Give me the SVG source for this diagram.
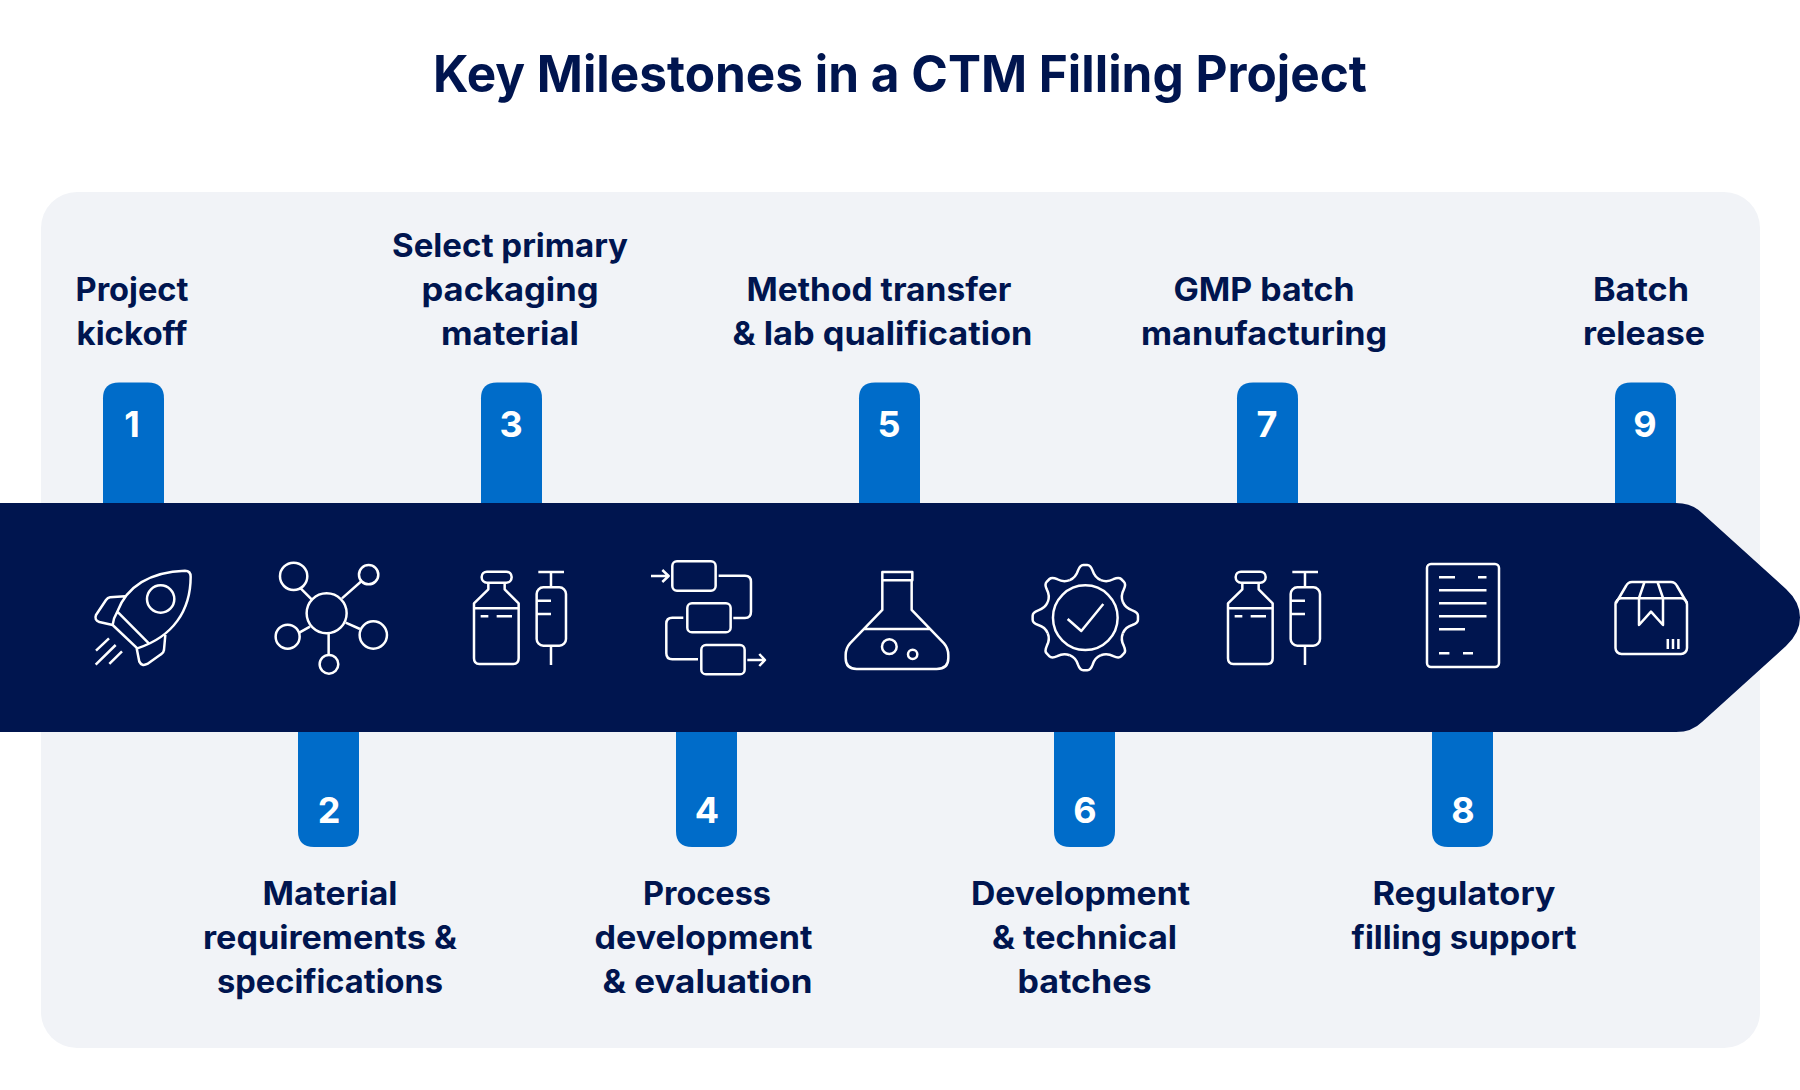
<svg xmlns="http://www.w3.org/2000/svg" xmlns:xlink="http://www.w3.org/1999/xlink" width="1800" height="1090" viewBox="0 0 1800 1090">
<style>
text{font-family:Inter,"Liberation Sans",sans-serif}
.t{font-size:51px;font-weight:700;fill:#00154f;text-anchor:middle}
.l{font-size:32px;font-weight:700;fill:#00154f;text-anchor:middle}
.n{font-size:36px;font-weight:700;fill:#fff;text-anchor:middle}
.tab{fill:#006cc9}
.ic{fill:none;stroke:#fff;stroke-width:7.500;stroke-linejoin:round}
.ir{fill:none;stroke:#fff;stroke-width:2.500;stroke-linejoin:round}
</style>
<defs>
<path id="tt" d="M-30.500 0V-104.500Q-30.500 -120.500 -14.500 -120.500H14.500Q30.500 -120.500 30.500 -104.500V0Z"/>
<path id="tb" d="M-30.500 0V99Q-30.500 115 -14.500 115H14.500Q30.500 115 30.500 99V0Z"/>
<path id="gs" d="M809.300 150.300C824 144 830 135 834 122Q840 105 850 105H862Q872 105 878 122C882 135 888 144 902.700 150.300"/>
<g id="vial">
<rect x="125" y="125" width="90" height="33" rx="16"/>
<path d="M145 158V178L102 220V385Q102 402 118 402H220Q236 402 236 385V220L194 178V158M102 235H236M122 259H145M170 259H216M295 126H372M333 126V172M333 347V405M290 212H333M290 252H333"/>
<rect x="290" y="172" width="88" height="175" rx="20"/>
</g>
</defs>
<rect id="panel" x="41" y="192" width="1719" height="856" rx="36" fill="#f1f3f7"/>
<text class="t" x="900" y="91.500" textLength="934" lengthAdjust="spacingAndGlyphs">Key Milestones in a CTM Filling Project</text>
<g id="connectors">
<use href="#tt" class="tab" x="133.500" y="503"/>
<use href="#tt" class="tab" x="511.500" y="503"/>
<use href="#tt" class="tab" x="889.500" y="503"/>
<use href="#tt" class="tab" x="1267.500" y="503"/>
<use href="#tt" class="tab" x="1645.500" y="503"/>
<use href="#tb" class="tab" x="328.500" y="732"/>
<use href="#tb" class="tab" x="706.500" y="732"/>
<use href="#tb" class="tab" x="1084.500" y="732"/>
<use href="#tb" class="tab" x="1462.500" y="732"/>
</g>
<path id="band" fill="#00154f" d="M0 503H1676Q1692 503 1702 513L1786 589Q1800 602 1800 617.500Q1800 633 1786 646L1702 722Q1692 732 1676 732H0Z"/>
<g id="n1">
<text class="l"><tspan x="132" y="301" textLength="113" lengthAdjust="spacingAndGlyphs">Project</tspan><tspan x="132" y="345" textLength="111" lengthAdjust="spacingAndGlyphs">kickoff</tspan></text>
<text class="n" x="132" y="437">1</text>
<g class="ic" transform="translate(60 530) scale(.3333)"><path d="M172 245C200 170 270 125 375 122Q392 122 392 140C392 240 340 320 232 355L158 285Q160 265 172 245L268 342M195 199L150 202Q143 203 138 210L108 255Q102 270 118 276L158 285M316 315L312 360Q311 368 303 373L262 402Q245 410 238 395L230 355M147 325L108 362M167 345L107 404M186 364L148 402"/><circle cx="302" cy="207" r="41"/></g>
</g>
<g id="n2">
<text class="l"><tspan x="330" y="904.500" textLength="135" lengthAdjust="spacingAndGlyphs">Material</tspan><tspan x="330" y="948.500" textLength="254" lengthAdjust="spacingAndGlyphs">requirements &amp;</tspan><tspan x="330" y="992.500" textLength="226" lengthAdjust="spacingAndGlyphs">specifications</tspan></text>
<text class="n" x="329" y="823">2</text>
<g class="ic" transform="translate(60 530) scale(.3333)"><circle cx="800" cy="250" r="60"/><circle cx="701" cy="139" r="41"/><circle cx="926" cy="134" r="29"/><circle cx="683" cy="320" r="36"/><circle cx="940" cy="315" r="41"/><circle cx="807" cy="403" r="28"/><path d="M722 175L755 208M905 153L846 205M718 308L750 290M857 278L900 297M806 312V375"/></g>
</g>
<g id="n3">
<text class="l"><tspan x="510" y="257" textLength="236" lengthAdjust="spacingAndGlyphs">Select primary</tspan><tspan x="510" y="301" textLength="177" lengthAdjust="spacingAndGlyphs">packaging</tspan><tspan x="510" y="345" textLength="138" lengthAdjust="spacingAndGlyphs">material</tspan></text>
<text class="n" x="511" y="437">3</text>
<use href="#vial" class="ic" transform="translate(440 530) scale(.3333)"/>
</g>
<g id="n4">
<text class="l"><tspan x="707" y="904.500" textLength="128" lengthAdjust="spacingAndGlyphs">Process</tspan><tspan x="703.500" y="948.500" textLength="218" lengthAdjust="spacingAndGlyphs">development</tspan><tspan x="707.500" y="992.500" textLength="210" lengthAdjust="spacingAndGlyphs">&amp; evaluation</tspan></text>
<text class="n" x="707" y="823">4</text>
<g class="ic" transform="translate(440 530) scale(.3333)"><rect x="697" y="94" width="130" height="88" rx="14"/><rect x="742" y="220" width="130" height="87" rx="14"/><rect x="784" y="345" width="130" height="88" rx="14"/><path d="M633 138H686M667 120L686 138L667 156M836 137H915Q933 137 933 155V245Q933 264 915 264H880M730 263H697Q679 263 679 281V370Q679 388 697 388H774M922 390H973M958 372L975 390L958 408"/></g>
</g>
<g id="n5">
<text class="l"><tspan x="879" y="301" textLength="265" lengthAdjust="spacingAndGlyphs">Method transfer</tspan><tspan x="882.500" y="345" textLength="300" lengthAdjust="spacingAndGlyphs">&amp; lab qualification</tspan></text>
<text class="n" x="889" y="437">5</text>
<g class="ic" transform="translate(800 530) scale(.3333)"><rect x="247" y="126" width="90" height="25"/><path d="M247 151V240L150 340Q137 355 137 375V385Q137 417 170 417H410Q445 417 445 385V375Q445 355 432 340L335 240V151M192 297H390"/><circle cx="268" cy="350" r="22"/><circle cx="338" cy="373" r="14"/></g>
</g>
<g id="n6">
<text class="l"><tspan x="1080.500" y="904.500" textLength="219" lengthAdjust="spacingAndGlyphs">Development</tspan><tspan x="1084.500" y="948.500" textLength="185" lengthAdjust="spacingAndGlyphs">&amp; technical</tspan><tspan x="1084.500" y="992.500" textLength="134" lengthAdjust="spacingAndGlyphs">batches</tspan></text>
<text class="n" x="1085" y="823">6</text>
<g class="ic" transform="translate(800 530) scale(.3333)"><use href="#gs"/><use href="#gs" transform="rotate(45 856 263)"/><use href="#gs" transform="rotate(90 856 263)"/><use href="#gs" transform="rotate(135 856 263)"/><use href="#gs" transform="rotate(180 856 263)"/><use href="#gs" transform="rotate(225 856 263)"/><use href="#gs" transform="rotate(270 856 263)"/><use href="#gs" transform="rotate(315 856 263)"/><circle cx="856" cy="263" r="97"/><path d="M803 267L844 303L910 222"/></g>
</g>
<g id="n7">
<text class="l"><tspan x="1264" y="301" textLength="181" lengthAdjust="spacingAndGlyphs">GMP batch</tspan><tspan x="1264" y="345" textLength="246" lengthAdjust="spacingAndGlyphs">manufacturing</tspan></text>
<text class="n" x="1267" y="437">7</text>
<use href="#vial" class="ic" transform="translate(1194 530) scale(.3333)"/>
</g>
<g id="n8">
<text class="l"><tspan x="1464" y="904.500" textLength="183" lengthAdjust="spacingAndGlyphs">Regulatory</tspan><tspan x="1464" y="948.500" textLength="225" lengthAdjust="spacingAndGlyphs">filling support</tspan></text>
<text class="n" x="1463" y="823">8</text>
<g class="ir"><rect x="1427" y="564" width="72" height="103" rx="4"/><path d="M1439 577.300H1455M1478 577.300H1486.500M1439 590.300H1486.500M1439 603.300H1486.500M1439 616.300H1486.500M1439 629.300H1465M1439 653.300H1449.400M1463 653.300H1473"/></g>
</g>
<g id="n9">
<text class="l"><tspan x="1641" y="301" textLength="96" lengthAdjust="spacingAndGlyphs">Batch</tspan><tspan x="1644" y="345" textLength="122" lengthAdjust="spacingAndGlyphs">release</tspan></text>
<text class="n" x="1645" y="437">9</text>
<g class="ir"><rect x="1615.500" y="598.300" width="71.500" height="55.700" rx="6"/><path d="M1616 603L1626 586Q1628 582 1632 582H1671Q1675 582 1677 586L1687 603M1644.500 582L1639 598V625L1651 611.700L1663 625V598L1657.500 582M1667.800 639V649M1673 639V649M1678.400 639V649"/></g>
</g>
</svg>
